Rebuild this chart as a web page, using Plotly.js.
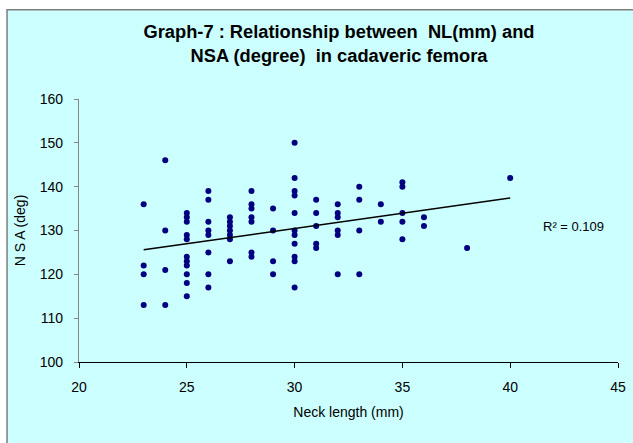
<!DOCTYPE html>
<html>
<head>
<meta charset="utf-8">
<script src="https://cdn.plot.ly/plotly-3.0.1.min.js"></script>
<style>html,body{margin:0;padding:0;background:#fff;}#chart{width:633px;height:443px;}</style>
</head>
<body>
<div id="chart"></div>
<script>
// Neck length (mm) for each specimen
const neckLength = [
  23,23,23,23,
  24,24,24,24,
  25,25,25,25,25,25,25,25,25,25,25,
  26,26,26,26,26,26,26,26,
  27,27,27,27,27,27,27,
  28,28,28,28,28,28,28,
  29,29,29,29,
  30,30,30,30,30,30,30,30,30,30,30,
  31,31,31,31,31,
  32,32,32,32,32,32,
  33,33,33,33,
  34,34,
  35,35,35,35,35,
  36,36,
  38,
  40
];
// Neck-shaft angle (degree) for each specimen
const nsa = [
  136,122,120,113,
  146,130,121,113,
  134,133,132,129,128,124,123,122,120,118,115,
  139,137,132,130,129,125,120,117,
  133,132,131,130,129,128,123,
  139,136,135,133,132,125,124,
  135,130,123,120,
  150,142,139,138,134,130,129,127,124,123,117,
  137,134,131,127,126,
  136,134,133,130,129,120,
  140,137,130,120,
  136,132,
  141,140,134,132,128,
  133,131,
  126,
  142
];
const xTicks = [20,25,30,35,40,45];
const yTicks = [100,110,120,130,140,150,160];
const r2Label = "R² = 0.109";

// least-squares linear trendline
const n = neckLength.length;
const mx = neckLength.reduce((a,b)=>a+b,0)/n;
const my = nsa.reduce((a,b)=>a+b,0)/n;
let sxy=0, sxx=0;
for (let i=0;i<n;i++){ sxy += (neckLength[i]-mx)*(nsa[i]-my); sxx += (neckLength[i]-mx)*(neckLength[i]-mx); }
const slope = sxy/sxx, icpt = my - slope*mx;
const xMin = Math.min(...neckLength), xMax = Math.max(...neckLength);
const trendX = [xMin, xMax];
const trendY = trendX.map(x => icpt + slope*x);

const FONT = '"Liberation Sans", Arial, sans-serif';
const L = 79, R = 14.7, T = 99.3, B = 80.7;
const PW = 633 - L - R, PH = 443 - T - B;
const px2x = p => (p - L)/PW;
const py2y = p => (443 - B - p)/PH;

const traces = [
  {x: neckLength, y: nsa, type: 'scatter', mode: 'markers',
   marker: {color: '#000080', size: 6}, hoverinfo: 'x+y'},
  {x: trendX, y: trendY, type: 'scatter', mode: 'lines',
   line: {color: '#000000', width: 1.5}, hoverinfo: 'skip'}
];

const layout = {
  width: 633, height: 443,
  margin: {l: L, r: R, t: T, b: B, pad: 0},
  paper_bgcolor: '#ffffff',
  plot_bgcolor: '#CCFFFF',
  showlegend: false,
  font: {family: FONT, size: 14, color: '#000000'},
  title: {
    text: '<b>Graph-7 : Relationship between  NL(mm) and<br>NSA (degree)  in cadaveric femora</b>',
    font: {family: FONT, size: 18.3, color: '#000000'},
    xref: 'container', x: 339/633, xanchor: 'center',
    yref: 'container', y: 1 - 38/443, yanchor: 'top'
  },
  xaxis: {
    range: [20, 45], tickvals: xTicks, ticktext: xTicks.map(String),
    showgrid: false, zeroline: false,
    showline: true, linecolor: '#000000', linewidth: 1,
    ticks: 'outside', ticklen: 5, tickcolor: '#000000', tickwidth: 1,
    ticklabelstandoff: 7,
    tickfont: {family: FONT, size: 14, color: '#000000'},
    title: {text: 'Neck length (mm)', font: {family: FONT, size: 14, color: '#000000'}, standoff: 13}
  },
  yaxis: {
    range: [100, 160], tickvals: yTicks, ticktext: yTicks.map(String),
    showgrid: false, zeroline: false,
    showline: true, linecolor: '#868686', linewidth: 1.2,
    ticks: 'outside', ticklen: 4, tickcolor: '#868686', tickwidth: 1,
    ticklabelstandoff: 8,
    tickfont: {family: FONT, size: 14, color: '#000000'},
    title: {text: 'N S A (deg)', font: {family: FONT, size: 14, color: '#000000'}, standoff: 10}
  },
  shapes: [
    {type: 'rect', xref: 'paper', yref: 'paper', layer: 'below',
     x0: px2x(7), x1: px2x(650), y0: py2y(460), y1: py2y(10),
     fillcolor: '#CCFFFF', line: {color: '#7f7f7f', width: 1.5}}
  ],
  annotations: [
    {text: r2Label, xref: 'paper', yref: 'paper', x: px2x(541), y: py2y(227),
     xanchor: 'left', yanchor: 'middle', showarrow: false,
     font: {family: FONT, size: 13, color: '#000000'}}
  ]
};

Plotly.newPlot('chart', traces, layout, {displayModeBar: false, staticPlot: true});
</script>
</body>
</html>
